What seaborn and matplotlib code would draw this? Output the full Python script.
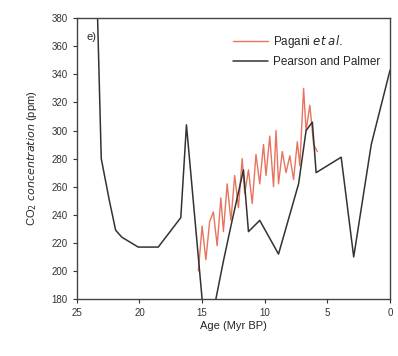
import matplotlib
matplotlib.use("Agg")
import matplotlib.pyplot as plt
import seaborn as sns
import pandas as pd

# Pearson and Palmer (boron isotope) CO2 record
pp_age = [23.4, 23.05, 22.4, 21.9, 21.4, 20.1, 18.5, 16.7, 16.25, 15.0, 14.4, 13.9,
          13.3, 12.7, 11.7, 11.3, 10.4, 8.9, 7.3, 6.7, 6.2, 5.9, 3.9, 2.9, 1.5, 0.0]
pp_co2 = [400, 280, 250, 229, 224, 217, 217, 238, 304, 180, 165, 180,
          207, 232, 272, 228, 236, 212, 262, 300, 306, 270, 281, 210, 290, 343]

# Pagani et al. (alkenone) CO2 record
pg_age = [15.3, 15.0, 14.7, 14.4, 14.1, 13.8, 13.5, 13.3, 13.0, 12.7, 12.4, 12.1,
          11.8, 11.6, 11.3, 11.0, 10.7, 10.4, 10.1, 9.9, 9.6, 9.3, 9.1, 8.9,
          8.6, 8.3, 8.0, 7.7, 7.4, 7.2, 6.9, 6.7, 6.4, 6.1, 5.8]
pg_co2 = [200, 232, 208, 235, 242, 218, 252, 228, 262, 236, 268, 245,
          280, 255, 272, 248, 283, 262, 290, 268, 296, 260, 300, 262,
          285, 270, 282, 265, 292, 275, 330, 300, 318, 290, 285]

x_ticks = [25, 20, 15, 10, 5, 0]
y_ticks = list(range(180, 381, 20))

sns.set_theme(style="ticks")
plt.rcParams["font.family"] = ["Liberation Sans", "DejaVu Sans"]

fig = plt.figure(figsize=(3.98, 3.56), dpi=100)
ax = fig.add_axes([0.193, 0.160, 0.787, 0.789])

pg = pd.DataFrame({"age": pg_age, "co2": pg_co2})
pp = pd.DataFrame({"age": pp_age, "co2": pp_co2})

sns.lineplot(data=pg, x="age", y="co2", ax=ax, color="#e8735f", lw=1.0,
             estimator=None, sort=False, label="Pagani $et$ $al.$")
sns.lineplot(data=pp, x="age", y="co2", ax=ax, color="#333333", lw=1.1,
             estimator=None, sort=False, label="Pearson and Palmer")

ax.set_xlim(25, 0)
ax.set_ylim(180, 380)
ax.set_xticks(x_ticks)
ax.set_yticks(y_ticks)
ax.tick_params(labelsize=7, length=3, width=0.8, colors="#333333")
for s in ax.spines.values():
    s.set_color("#444444")
    s.set_linewidth(1.0)

ax.set_xlabel("Age (Myr BP)", fontsize=8, labelpad=2)
ax.set_ylabel("CO$_2$ $concentration$ (ppm)", fontsize=8, labelpad=9)
ax.text(0.03, 0.95, "e)", transform=ax.transAxes, fontsize=8, va="top")

ax.legend(loc="upper right", frameon=False, fontsize=8.5, handlelength=3.0,
          handletextpad=0.4, labelspacing=0.5, borderaxespad=0.3,
          bbox_to_anchor=(0.995, 0.975))

fig.savefig("out.png", dpi=100)
